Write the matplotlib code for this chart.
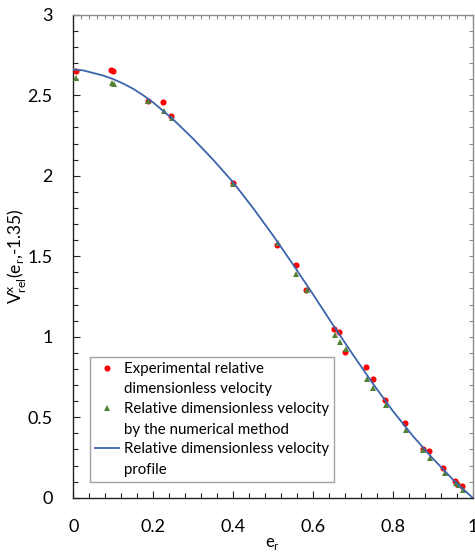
import matplotlib.pyplot as plt
import numpy as np

# experimental points (red)
exp_x = [0.007, 0.094, 0.100, 0.186, 0.225, 0.245, 0.401, 0.511, 0.557, 0.583,
         0.654, 0.666, 0.680, 0.733, 0.750, 0.782, 0.831, 0.876, 0.890, 0.927,
         0.955, 0.962, 0.973]
exp_y = [2.652, 2.656, 2.652, 2.464, 2.458, 2.369, 1.955, 1.568, 1.447, 1.292,
         1.046, 1.027, 0.903, 0.810, 0.735, 0.607, 0.462, 0.302, 0.292, 0.184,
         0.102, 0.085, 0.073]

# numerical method points (green)
num_x = [0.008, 0.096, 0.103, 0.188, 0.226, 0.246, 0.401, 0.513, 0.558, 0.585,
         0.656, 0.667, 0.682, 0.735, 0.751, 0.784, 0.833, 0.877, 0.893, 0.930,
         0.958, 0.965, 0.976]
num_y = [2.607, 2.574, 2.570, 2.464, 2.402, 2.356, 1.950, 1.584, 1.391, 1.288,
         1.012, 0.969, 0.925, 0.735, 0.683, 0.574, 0.419, 0.298, 0.245, 0.151,
         0.089, 0.077, 0.048]

# velocity profile (blue line)
prof_x = [0.000, 0.025, 0.050, 0.075, 0.100, 0.125, 0.150, 0.175, 0.200, 0.250,
          0.300, 0.350, 0.400, 0.450, 0.500, 0.550, 0.600, 0.650, 0.700, 0.750,
          0.800, 0.850, 0.900, 0.950, 1.000]
prof_y = [2.660, 2.654, 2.638, 2.622, 2.600, 2.572, 2.540, 2.500, 2.455, 2.350,
          2.230, 2.100, 1.960, 1.800, 1.630, 1.450, 1.265, 1.075, 0.890, 0.710,
          0.540, 0.385, 0.245, 0.115, 0.000]

plt.rcParams['font.family'] = ['Lato', 'DejaVu Sans']

fig = plt.figure(figsize=(4.75, 5.53), dpi=100)
ax = fig.add_axes([0.1543, 0.1, 0.8405, 0.8734])

ax.plot(exp_x, exp_y, 'o', color='#FF0000', markersize=4.4, markeredgewidth=0,
        label='Experimental relative\ndimensionless velocity', zorder=3)
ax.plot(num_x, num_y, '^', color='#548235', markersize=4.8, markeredgewidth=0,
        label='Relative dimensionless velocity\nby the numerical method', zorder=4)
ax.plot(prof_x, prof_y, '-', color='#3C64AA', lw=1.3,
        label='Relative dimensionless velocity\nprofile', zorder=5)

ax.set_xlim(0, 1)
ax.set_ylim(0, 3)
ax.set_xticks(np.arange(0, 1.01, 0.2))
ax.set_xticklabels(['0', '0.2', '0.4', '0.6', '0.8', '1'])
ax.set_yticks(np.arange(0, 3.01, 0.5))
ax.set_yticklabels(['0', '0.5', '1', '1.5', '2', '2.5', '3'])
ax.set_xticks(np.arange(0, 1.001, 0.04), minor=True)
ax.set_yticks(np.arange(0, 3.001, 0.1), minor=True)
ax.tick_params(which='both', direction='in', top=False, right=False,
               labelsize=13, color='#222222')
ax.tick_params(which='major', length=5, width=0.8)
ax.tick_params(which='minor', length=3.5, width=0.8)
ax.tick_params(axis='x', pad=15)
ax.tick_params(axis='y', pad=15)

for s in ['left', 'bottom']:
    ax.spines[s].set_color('#222222')
    ax.spines[s].set_linewidth(1.0)
for s in ['top', 'right']:
    ax.spines[s].set_color('#8C8C8C')
    ax.spines[s].set_linewidth(1.0)

# secondary axes ticks (top every 0.02, right every 0.1)
top = ax.secondary_xaxis('top')
top.set_xticks(np.arange(0, 1.001, 0.02))
top.tick_params(direction='in', length=3, width=0.8, color='#8C8C8C', labeltop=False)
top.spines['top'].set_visible(False)
right = ax.secondary_yaxis('right')
right.set_yticks(np.arange(0, 3.001, 0.1))
right.tick_params(direction='in', length=3, width=0.8, color='#8C8C8C', labelright=False)
right.spines['right'].set_visible(False)

ax.set_xlabel(r'e$_\mathregular{r}$', fontsize=12, labelpad=1)
ax.set_ylabel(r'V$^\mathregular{x}_\mathregular{rel}$(e$_\mathregular{r}$,-1.35)',
              fontsize=12.5)
ax.yaxis.set_label_coords(-0.112, 0.5)

leg = ax.legend(loc='lower left', bbox_to_anchor=(0.042, 0.032), fontsize=10.8,
                frameon=True, fancybox=False, edgecolor='#8C8C8C',
                borderpad=0.35, handlelength=1.6, handletextpad=0.3,
                handleheight=1.0, labelspacing=0.38, borderaxespad=0)
leg.get_frame().set_linewidth(1.0)
for t in leg.get_texts():
    t.set_linespacing(1.6)
# put each handle next to the first line of its label
for col in leg._legend_handle_box.get_children():
    for row in col.get_children():
        row.align = 'top'

fig.savefig('out.png', dpi=100)
